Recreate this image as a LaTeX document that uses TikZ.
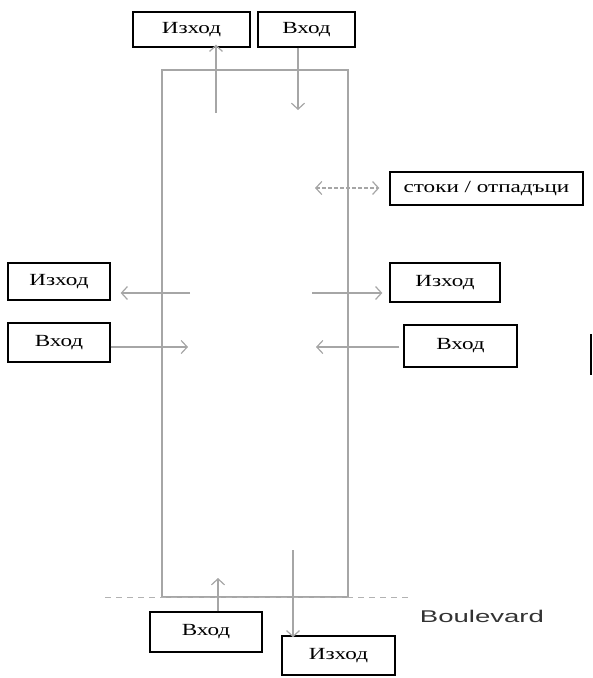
\documentclass[tikz,border=0pt]{standalone}
\usepackage{fontspec}
\setmainfont{Liberation Serif}
\newfontfamily\signfont[FakeStretch=1.36]{Liberation Serif}
\newfontfamily\blvdfont[FakeStretch=1.62]{Liberation Sans}
\usetikzlibrary{arrows.meta}

\tikzset{
  >={Straight Barb[length=6pt,width=13pt,line width=1.2pt]},
  sign/.style={draw=black, line width=1.3pt, fill=white, inner sep=0pt,
    font=\signfont\fontsize{17}{19}\selectfont},
  flow/.style={gray!70, line width=1.2pt},
  wall/.style={gray!70, line width=1.5pt},
}

\begin{document}
\begin{tikzpicture}[x=1pt,y=-1pt]
  \useasboundingbox (0,0) rectangle (593,678);

  % сградата и булевардът
  \draw[wall] (162,70) rectangle (348,597);
  \draw[gray!60, line width=1pt, dash pattern=on 6pt off 5pt] (105,597) -- (410,597);
  \node[font=\blvdfont\fontsize{17}{19}\selectfont, text=black!80] (blvd) at (482,616) {Boulevard};

  % табели
  \node[sign, minimum width=117pt, minimum height=35pt] (outTop) at (191.5,29.5) {Изход};
  \node[sign, minimum width=97pt, minimum height=35pt] (inTop) at (306.5,29.5) {Вход};
  \node[sign, minimum width=193pt, minimum height=33pt] (waste) at (486.5,188.5) {стоки / отпадъци};
  \node[sign, minimum width=102pt, minimum height=37pt] (outLeft) at (59,281.5) {Изход};
  \node[sign, minimum width=102pt, minimum height=39pt] (inLeft) at (59,342.5) {Вход};
  \node[sign, minimum width=110pt, minimum height=39pt] (outRight) at (445,282.5) {Изход};
  \node[sign, minimum width=113pt, minimum height=42pt] (inRight) at (460.5,346) {Вход};
  \node[sign, minimum width=112pt, minimum height=40pt] (inBottom) at (206,632) {Вход};
  \node[sign, minimum width=113pt, minimum height=39pt] (outBottom) at (338.5,655.5) {Изход};

  % краища на стрелките вътре в сградата
  \coordinate (outTopIn) at (216,113);
  \coordinate (inTopIn) at (298,110);
  \coordinate (wasteIn) at (315,188);
  \coordinate (outLeftIn) at (190,293);
  \coordinate (inLeftIn) at (188,347);
  \coordinate (outRightIn) at (312,293);
  \coordinate (inRightIn) at (316,347);
  \coordinate (inBottomIn) at (218,578);
  \coordinate (outBottomIn) at (293,550);

  % стрелки
  \draw[flow, ->] (outTopIn) -- ([yshift=3pt]outTopIn |- outTop.south);
  \draw[flow, ->] (inTopIn |- inTop.south) -- (inTopIn);
  \draw[flow, <->, dash pattern=on 4pt off 2pt] (wasteIn) -- ([xshift=-10pt]waste.west |- wasteIn);
  \draw[flow, ->] (outLeftIn) -- ([xshift=10pt]outLeft.east |- outLeftIn);
  \draw[flow, ->] (outLeft.east |- inLeftIn) -- (inLeftIn);
  \draw[flow, ->] (outRightIn) -- ([xshift=-7pt]outRight.west |- outRightIn);
  \draw[flow, ->] ([xshift=-4pt]inRight.west |- inRightIn) -- (inRightIn);
  \draw[flow, ->] (inBottomIn |- inBottom.north) -- (inBottomIn);
  \draw[flow, ->] (outBottomIn) -- ([yshift=-2pt]outBottomIn |- outBottom.north);

  % черна черта вдясно
  \draw[black, line width=1.5pt] (591,334) -- (591,375);
\end{tikzpicture}
\end{document}
